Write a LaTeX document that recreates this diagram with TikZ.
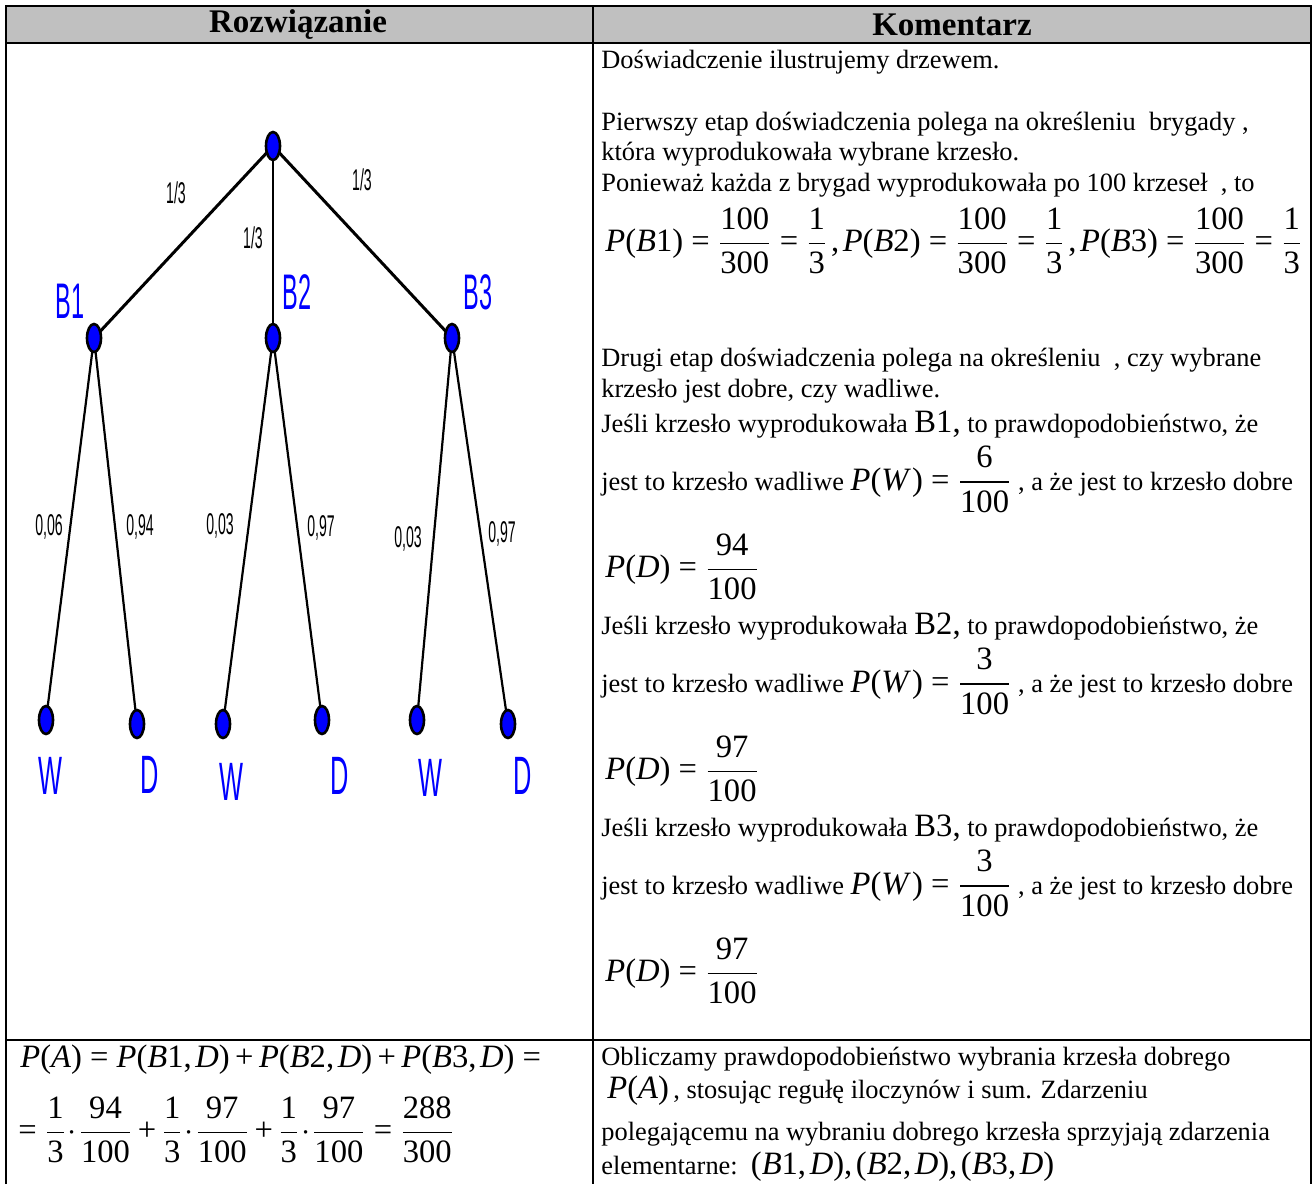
\documentclass[tikz,border=0pt]{standalone}
\usepackage{amsmath}
\usepackage{mathptmx}
\usepackage[no-math]{fontspec}
\setmainfont{Liberation Serif}
\setsansfont{Liberation Sans}
\DeclareSymbolFont{operators}{TU}{\rmdefault}{m}{n}
\DeclareSymbolFont{letters}{TU}{\rmdefault}{m}{it}
\mathcode`\,="602C
\usepackage{graphicx}
\usetikzlibrary{shapes.geometric,backgrounds}
\definecolor{tblue}{HTML}{0000FF}
\definecolor{headg}{HTML}{C0C0C0}
\newcommand{\narrowlbl}[1]{\scalebox{0.47}[1]{\sffamily #1}}
\newcommand{\eqsize}{\fontsize{16.3}{18}\selectfont}
\thickmuskip=4.5mu plus 2mu
\medmuskip=3mu plus 1mu
\tikzset{
  bnode/.style={ellipse,draw=black,fill=tblue,line width=1.3pt,minimum width=7pt,minimum height=14pt,inner sep=0pt},
  topedge/.style={line width=1.5pt},
  lowedge/.style={line width=1.1pt},
  blbl/.style={text=tblue,inner sep=0pt,font=\fontsize{25}{25}\selectfont},
  plbl/.style={inner sep=0pt,font=\fontsize{15}{15}\selectfont},
  ctext/.style={anchor=base west,inner sep=0pt,font=\fontsize{13.2}{14}\selectfont},
  mline/.style={anchor=west,inner sep=0pt,font=\eqsize},
  head/.style={inner sep=0pt,font=\fontsize{16.5}{18}\selectfont\bfseries},
  tframe/.style={line width=1.4pt},
  trule/.style={line width=1pt},
}
\begin{document}
\begin{tikzpicture}[x=0.5pt,y=-0.5pt]
  \useasboundingbox (0,0) rectangle (1316,1184);
  % ---------- table ----------
  \fill[headg] (6,6) rectangle (1311,43);
  \draw[tframe] (6,1184) -- (6,6) -- (1311,6) -- (1311,1184);
  \draw[trule] (6,43) -- (1311,43);
  \draw[trule] (593,6) -- (593,1184);
  \draw[trule] (6,1040) -- (1311,1040);
  \node[head] (hsol) at (298,25) {Rozwiązanie};
  \node[head] (hcom) at (952,25) {Komentarz};
  % ---------- tree ----------
  \node[bnode] (root) at (273,146) {};
  \node[bnode] (b1) at (94,338) {};
  \node[bnode] (b2) at (273,338) {};
  \node[bnode] (b3) at (452,338) {};
  \node[bnode] (w1) at (46,720) {};
  \node[bnode] (d1) at (137,724) {};
  \node[bnode] (w2) at (223,724) {};
  \node[bnode] (d2) at (322,720) {};
  \node[bnode] (w3) at (417,720) {};
  \node[bnode] (d3) at (508,724) {};
  \begin{scope}[on background layer]
    \draw[topedge] (root.center) -- (b1.center);
    \draw[topedge] (root.center) -- (b3.center);
    \draw[lowedge] (root.center) -- (b2.center);
    \foreach \p/\c in {b1/w1,b1/d1,b2/w2,b2/d2,b3/w3,b3/d3}
      \draw[lowedge] (\p.center) -- (\c.center);
  \end{scope}
  \node[blbl] (lb1) at (70,301) {\narrowlbl{B1}};
  \node[blbl] (lb2) at (297,292) {\narrowlbl{B2}};
  \node[blbl] (lb3) at (478,292) {\narrowlbl{B3}};
  \foreach \n/\t/\x/\y in {lw1/W/50/776,ld1/D/150/775,lw2/W/231/782,ld2/D/340/776,lw3/W/430/778,ld3/D/523/776}
    \node[blbl,font=\fontsize{27}{27}\selectfont] (\n) at (\x,\y) {\narrowlbl{\t}};
  \node[plbl] (p1) at (176,193) {\narrowlbl{1/3}};
  \node[plbl] (p2) at (253,238) {\narrowlbl{1/3}};
  \node[plbl] (p3) at (362,180) {\narrowlbl{1/3}};
  \foreach \n/\t/\x/\y in {q1/{0,06}/49/527,q2/{0,94}/140/527,q3/{0,03}/220/526,q4/{0,97}/321/528,q5/{0,03}/408/539,q6/{0,97}/502/534}
    \node[plbl] (\n) at (\x,\y) {\narrowlbl{\t}};
  % ---------- comments ----------
  \node[ctext] (c1) at (601,68) {Doświadczenie ilustrujemy drzewem.};
  \node[ctext] (c2) at (601,130) {Pierwszy etap doświadczenia polega na określeniu\ \ brygady ,};
  \node[ctext] (c3) at (601,160) {która wyprodukowała wybrane krzesło.};
  \node[ctext] (c4) at (601,191) {Ponieważ każda z brygad wyprodukowała po 100 krzeseł\ \ , to};
  \node[mline] (e1) at (605,241)
    {$P(B1)=\dfrac{100}{300}=\dfrac{1}{3}\,,P(B2)=\dfrac{100}{300}=\dfrac{1}{3}\,,P(B3)=\dfrac{100}{300}=\dfrac{1}{3}$};
  \node[ctext] (c5) at (601,366) {Drugi etap doświadczenia polega na określeniu\ \ , czy wybrane};
  \node[ctext] (c6) at (601,397) {krzesło jest dobre, czy wadliwe.};
  \foreach \k/\b/\n/\d in {0/1/6/94,1/2/3/97,2/3/3/97}{
    \node[ctext] (j\b) at (601,432+\k*202) {Jeśli krzesło wyprodukowała {\eqsize B\b,} to prawdopodobieństwo, że};
    \node[ctext] (w\b) at (601,490+\k*202) {jest to krzesło wadliwe {\eqsize$P(W\,)=\dfrac{\n}{100}$} , a że jest to krzesło dobre};
    \node[mline] (g\b) at (605,567+\k*202) {$P(D)=\dfrac{\d}{100}$};
  }
  % ---------- bottom row ----------
  \node[ctext] (r1) at (601,1065) {Obliczamy prawdopodobieństwo wybrania krzesła dobrego};
  \node[ctext] (r2) at (607,1098) {{\eqsize$P(A)$}\,, stosując regułę iloczynów i sum. Zdarzeniu};
  \node[ctext] (r3) at (601,1140) {polegającemu na wybraniu dobrego krzesła sprzyjają zdarzenia};
  \node[ctext] (r4) at (601,1174) {elementarne:\ \ {\eqsize$(B1,D),(B2,D),(B3,D)$}};
  \node[ctext,font=\eqsize] (s1) at (20,1067) {$P(A)=P(B1,D)+P(B2,D)+P(B3,D)=$};
  \node[mline] (s2) at (18,1130)
    {$=\dfrac{1}{3}\!\cdot\!\dfrac{94}{100}+\dfrac{1}{3}\!\cdot\!\dfrac{97}{100}+\dfrac{1}{3}\!\cdot\!\dfrac{97}{100}=\dfrac{288}{300}$};
\end{tikzpicture}
\end{document}
